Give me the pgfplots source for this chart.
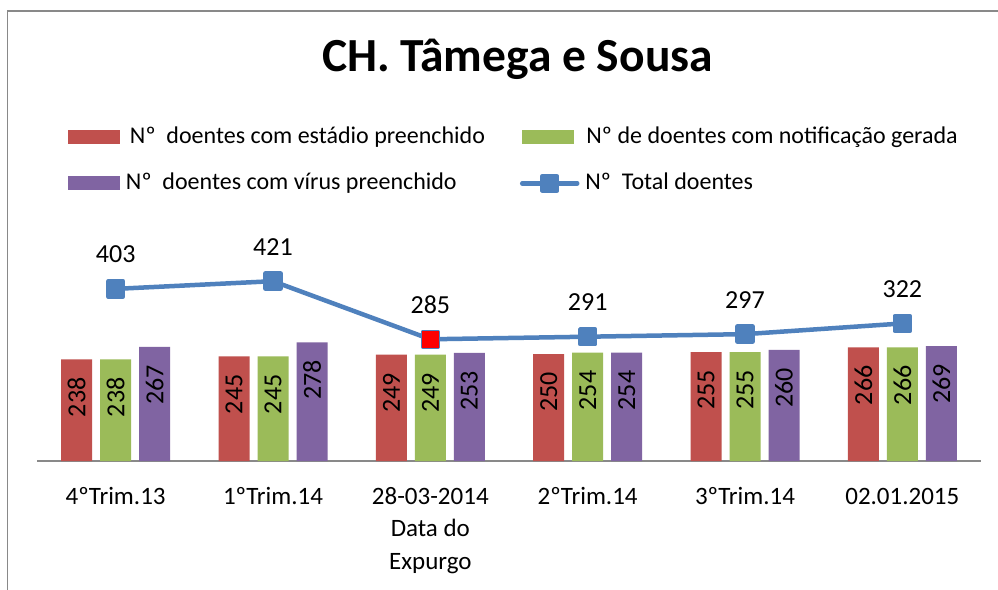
\documentclass[border=0pt]{standalone}
\usepackage{pgfplots}
\pgfplotsset{compat=1.18}
\usepackage{fontspec}
\setmainfont{Carlito}
\definecolor{cred}{HTML}{C0504D}
\definecolor{cgreen}{HTML}{9BBB59}
\definecolor{cpurple}{HTML}{8064A2}
\definecolor{cblue}{HTML}{4F81BD}
\definecolor{frame}{HTML}{898989}
\newcommand{\st}{\rule{0pt}{18bp}}
\pgfplotsset{barlbl/.style={nodes near coords, nodes near coords style={font=\fontsize{26bp}{30bp}\selectfont, text=black, inner sep=0pt, xshift=#1, yshift=-18bp, rotate=90, anchor=east}}}
\begin{document}
\begin{tikzpicture}
\useasboundingbox (0,0) rectangle (998bp,590bp);
\fill[white] (0,0) rectangle (998bp,590bp);
\draw[frame, line width=1.5bp] (7.5bp,0) -- (7.5bp,579bp) -- (998bp,579bp);
\node[anchor=base, inner sep=0pt, font=\fontsize{47.5bp}{52bp}\selectfont\bfseries] at (517.5bp,518bp) {CH. Tâmega e Sousa};
\begin{axis}[
  at={(37bp,129bp)}, anchor=south west,
  scale only axis, width=944bp, height=192.2bp,
  xmin=-0.5, xmax=5.5, ymin=0, ymax=450,
  clip=false,
  /pgf/number format/assume math mode=true,
  axis y line=none,
  axis x line=bottom,
  x axis line style={-, draw=frame, line width=1.5bp},
  xtick={0,...,5},
  xticklabels={\st 4ºTrim.13, \st 1ºTrim.14, {\st 28-03-2014\\Data do\\Expurgo}, \st 2ºTrim.14, \st 3ºTrim.14, \st 02.01.2015},
  xtick style={draw=none},
  xticklabel style={anchor=north, inner sep=0pt, yshift=-23bp, align=center, font=\fontsize{25bp}{32.5bp}\selectfont},
  legend columns=2,
  legend cell align=left,
  legend style={at={(0.03284,1.7404)}, anchor=north west, draw=none, fill=none, inner sep=0pt, outer sep=0pt, row sep=23.5bp,
    font=\fontsize{24bp}{28bp}\selectfont,
    nodes={inner sep=0pt, text height=17bp, text depth=6bp},
    /tikz/every even column/.append style={column sep=35bp},
    /tikz/every odd column/.append style={column sep=6bp}},
]
\addplot[ybar, bar width=31bp, bar shift=-39bp, fill=cred, draw=none,
  legend image code/.code={\fill[cred] (0bp,-6bp) rectangle (52bp,8bp);},
  barlbl=-39bp]
  coordinates {(0,238) (1,245) (2,249) (3,250) (4,255) (5,266)};
\addlegendentry{\hspace{4bp}Nº\ \ doentes com estádio preenchido}
\addplot[ybar, bar width=31bp, bar shift=0bp, fill=cgreen, draw=none,
  legend image code/.code={\fill[cgreen] (0bp,-6bp) rectangle (52bp,8bp);},
  barlbl=0bp]
  coordinates {(0,238) (1,245) (2,249) (3,254) (4,255) (5,266)};
\addlegendentry{\hspace{1bp}Nº de doentes com notificação gerada}
\addplot[ybar, bar width=31bp, bar shift=39bp, fill=cpurple, draw=none,
  legend image code/.code={\fill[cpurple] (0bp,-6bp) rectangle (52bp,8bp);},
  barlbl=39bp]
  coordinates {(0,267) (1,278) (2,253) (3,254) (4,260) (5,269)};
\addlegendentry{Nº\ \ doentes com vírus preenchido}
\addplot[color=cblue, line width=4.5bp, line cap=round, line join=round, mark=square*, mark size=7.5bp, mark options={solid, draw=none, fill=cblue},
  legend image code/.code={\draw[cblue, line width=4.5bp, line cap=round] (0bp,1bp) -- (55bp,1bp); \fill[cblue] (20.5bp,-6.5bp) rectangle (34.5bp,8.5bp);},
  nodes near coords, nodes near coords style={font=\fontsize{26bp}{30bp}\selectfont, text=black, inner sep=0pt, anchor=base, yshift=26bp}]
  coordinates {(0,403) (1,421) (2,285) (3,291) (4,297) (5,322)};
\addlegendentry{Nº\ \ Total doentes}
\addplot[only marks, color=red, mark=square*, mark size=7.8bp, mark options={draw=red, fill=red, line width=0pt}, forget plot]
  coordinates {(2,285)};
\end{axis}
\end{tikzpicture}
\end{document}
